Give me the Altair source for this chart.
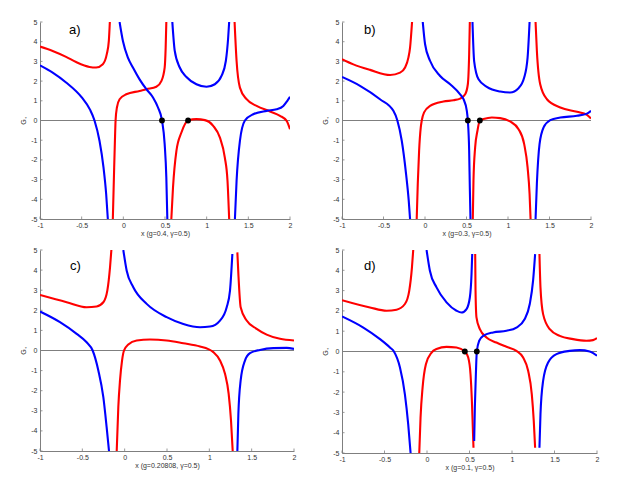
import altair as alt
import pandas as pd

# ---------------- data ----------------
X_TICKS = [-1, -0.5, 0, 0.5, 1, 1.5, 2]
Y_TICKS = [-5, -4, -3, -2, -1, 0, 1, 2, 3, 4, 5]

# panel a) g=0.4
A_R1 = [(-1, 3.75), (-0.848, 3.53), (-0.687, 3.23), (-0.567, 2.97), (-0.406, 2.72), (-0.326, 2.69), (-0.246, 2.86), (-0.198, 3.38), (-0.174, 4.04), (-0.162, 5.0)]
A_B1 = [(-1, 2.80), (-0.848, 2.43), (-0.687, 1.93), (-0.499, 1.17), (-0.40, 0.55), (-0.346, 0.0), (-0.286, -1.03), (-0.238, -2.38), (-0.206, -3.73), (-0.186, -5.0)]
A_R2 = [(-0.126, -5.0), (-0.11, -2.4), (-0.101, -1.03), (-0.093, 0.0), (-0.077, 0.66), (-0.045, 1.08), (0.035, 1.33), (0.195, 1.50), (0.276, 1.59), (0.396, 1.71), (0.456, 2.0), (0.496, 2.69), (0.508, 3.7), (0.516, 5.0)]
A_B2 = [(-0.045, 5.0), (-0.005, 4.04), (0.055, 3.19), (0.115, 2.69), (0.195, 2.09), (0.276, 1.59), (0.356, 1.17), (0.416, 0.66), (0.464, 0.0), (0.496, -1.2), (0.516, -2.9), (0.528, -5.0)]
A_B3 = [(0.588, 5.0), (0.617, 3.53), (0.677, 2.69), (0.757, 2.21), (0.877, 1.84), (0.998, 1.71), (1.098, 1.84), (1.178, 2.26), (1.230, 3.02), (1.258, 4.2), (1.270, 5.0)]
A_R3 = [(0.576, -5.0), (0.596, -3.4), (0.637, -1.54), (0.697, -0.61), (0.777, 0.0), (0.877, 0.07), (0.978, 0.02), (1.078, -0.27), (1.158, -0.86), (1.218, -1.88), (1.25, -3.06), (1.27, -5.0)]
A_R4 = [(1.335, 5.0), (1.359, 3.02), (1.399, 1.67), (1.479, 1.08), (1.599, 0.74), (1.760, 0.46), (1.880, 0.24), (1.96, -0.02), (2.0, -0.44)]
A_B4 = [(1.339, -5.0), (1.359, -3.06), (1.399, -1.03), (1.459, 0.0), (1.559, 0.32), (1.72, 0.49), (1.84, 0.57), (1.92, 0.74), (1.968, 1.0), (2.0, 1.2)]
A_DOTS = [(0.464, 0.0), (0.777, 0.0)]

# panel b) g=0.3
B_R1 = [(-1, 3.11), (-0.863, 2.85), (-0.662, 2.57), (-0.42, 2.31), (-0.30, 2.43), (-0.24, 2.69), (-0.20, 3.19), (-0.18, 3.7), (-0.156, 5.0)]
B_B1 = [(-1, 2.21), (-0.783, 1.76), (-0.542, 1.08), (-0.381, 0.49), (-0.333, 0.0), (-0.28, -1.03), (-0.228, -2.72), (-0.196, -4.07), (-0.18, -5.0)]
B_R2 = [(-0.1, -5.0), (-0.087, -3.2), (-0.071, -1.54), (-0.051, -0.35), (-0.039, 0.0), (-0.011, 0.41), (0.061, 0.74), (0.222, 0.96), (0.343, 1.03), (0.423, 1.11), (0.484, 1.33), (0.516, 1.84), (0.532, 3.36), (0.54, 5.0)]
B_B2 = [(-0.027, 5.0), (0.001, 3.87), (0.062, 3.02), (0.182, 2.26), (0.303, 1.84), (0.423, 1.33), (0.464, 1.08), (0.504, 0.49), (0.516, 0.0), (0.532, -1.54), (0.54, -3.4), (0.548, -5.0)]
B_B3 = [(0.572, 5.0), (0.592, 3.02), (0.645, 2.09), (0.745, 1.71), (0.906, 1.47), (1.026, 1.42), (1.127, 1.64), (1.195, 2.18), (1.236, 3.19), (1.26, 5.0)]
B_R3 = [(0.576, -5.0), (0.584, -3.06), (0.604, -1.37), (0.632, -0.52), (0.661, 0.0), (0.705, 0.07), (0.805, 0.15), (0.906, 0.12), (1.026, -0.05), (1.127, -0.44), (1.195, -1.2), (1.236, -2.38), (1.26, -3.73), (1.272, -5.0)]
B_R4 = [(1.332, 5.0), (1.348, 3.53), (1.388, 1.84), (1.469, 1.08), (1.63, 0.66), (1.831, 0.44), (1.951, 0.29), (2.0, 0.1)]
B_B4 = [(1.332, -5.0), (1.348, -3.2), (1.38, -1.2), (1.429, -0.35), (1.509, 0.02), (1.63, 0.15), (1.831, 0.24), (1.951, 0.35), (2.0, 0.49)]
B_DOTS = [(0.516, 0.0), (0.661, 0.0)]

# panel c) g=0.20808
C_R1 = [(-1, 2.76), (-0.685, 2.40), (-0.449, 2.15), (-0.331, 2.19), (-0.252, 2.40), (-0.205, 2.98), (-0.173, 4.14), (-0.157, 5.0)]
C_B1 = [(-1, 1.94), (-0.764, 1.41), (-0.567, 0.83), (-0.449, 0.41), (-0.378, 0.0), (-0.311, -0.99), (-0.252, -2.32), (-0.213, -3.81), (-0.185, -5.0)]
C_R2 = [(-0.094, -5.0), (-0.075, -2.81), (-0.055, -1.49), (-0.031, -0.5), (-0.008, 0.0), (0.043, 0.3), (0.142, 0.5), (0.299, 0.55), (0.496, 0.5), (0.693, 0.36), (0.89, 0.2), (0.988, 0.07), (1.047, -0.08), (1.126, -0.5), (1.185, -1.16), (1.228, -2.15), (1.256, -3.48), (1.276, -5.0)]
C_B2 = [(-0.016, 5.0), (0.024, 3.97), (0.102, 3.15), (0.26, 2.32), (0.496, 1.66), (0.693, 1.32), (0.89, 1.16), (1.008, 1.19), (1.126, 1.49), (1.205, 2.15), (1.244, 2.98), (1.272, 4.8)]
C_R3 = [(1.331, 4.88), (1.343, 3.81), (1.37, 2.15), (1.441, 1.49), (1.559, 1.08), (1.677, 0.79), (1.835, 0.58), (2.0, 0.5)]
C_B3 = [(1.331, -5.0), (1.343, -3.15), (1.37, -1.49), (1.421, -0.5), (1.48, -0.13), (1.598, 0.03), (1.756, 0.12), (1.913, 0.13), (2.0, 0.08)]
C_DOTS = []

# panel d) g=0.1
D_R1 = [(-1, 2.53), (-0.671, 2.17), (-0.475, 2.01), (-0.358, 2.06), (-0.26, 2.34), (-0.209, 2.99), (-0.177, 4.14), (-0.162, 5.0)]
D_B1 = [(-1, 1.73), (-0.749, 1.18), (-0.553, 0.61), (-0.436, 0.2), (-0.389, 0.0), (-0.318, -0.79), (-0.26, -2.11), (-0.221, -3.59), (-0.193, -5.0)]
D_R2 = [(-0.091, -5.0), (-0.076, -3.26), (-0.052, -1.78), (-0.013, -0.63), (0.054, -0.05), (0.112, 0.12), (0.23, 0.23), (0.347, 0.2), (0.445, 0.0), (0.485, -0.3), (0.512, -1.12), (0.528, -2.43), (0.539, -3.75), (0.547, -4.74)]
D_B2 = [(-0.005, 5.0), (0.034, 3.98), (0.112, 3.16), (0.23, 2.42), (0.347, 2.01), (0.406, 1.92), (0.465, 2.09), (0.504, 2.66), (0.524, 3.82), (0.532, 4.8)]
D_R3 = [(0.567, 4.8), (0.571, 2.99), (0.582, 1.68), (0.622, 1.1), (0.7, 0.69), (0.817, 0.44), (0.935, 0.23), (1.052, 0.03), (1.131, -0.3), (1.19, -0.95), (1.233, -2.11), (1.256, -3.42), (1.272, -4.74)]
D_B3 = [(0.555, -4.41), (0.563, -2.76), (0.575, -1.12), (0.586, 0.0), (0.614, 0.53), (0.661, 0.77), (0.778, 0.94), (0.935, 1.02), (1.052, 1.18), (1.15, 1.6), (1.209, 2.34), (1.248, 3.49), (1.272, 4.8)]
D_R4 = [(1.323, 4.8), (1.335, 3.16), (1.366, 1.84), (1.444, 1.1), (1.562, 0.77), (1.718, 0.61), (1.875, 0.53), (1.953, 0.56), (2.0, 0.66)]
D_B4 = [(1.323, -4.74), (1.335, -3.09), (1.366, -1.45), (1.425, -0.54), (1.523, -0.13), (1.679, 0.03), (1.797, 0.07), (1.914, 0.0), (2.0, -0.21)]
D_DOTS = [(0.445, 0.0), (0.586, 0.0)]

RED = "#ff0000"
BLUE = "#0000ff"
GREY = "#7f7f7f"
FONT = "Liberation Sans"


def branch_frame(pts, color, name):
    return pd.DataFrame({"x": [p[0] for p in pts], "y": [p[1] for p in pts],
                         "branch": name, "c": color})


def panel(reds, blues, dots, label, xtitle, w, h, lx, ly):
    frames = [branch_frame(p, RED, f"r{i}") for i, p in enumerate(reds)]
    frames += [branch_frame(p, BLUE, f"b{i}") for i, p in enumerate(blues)]
    df = pd.concat(frames, ignore_index=True)

    xs = alt.Scale(domain=[-1, 2], nice=False, zero=False)
    ys = alt.Scale(domain=[-5, 5], nice=False, zero=False)
    xax = alt.Axis(values=X_TICKS, labelExpr="'' + datum.value", title=xtitle,
                   ticks=False, labelPadding=2, titlePadding=1, labelFlush=False)
    yax = alt.Axis(values=Y_TICKS, labelExpr="'' + datum.value", title="G₊",
                   ticks=False, labelPadding=3, titlePadding=4)

    zero = alt.Chart(pd.DataFrame({"y": [0]})).mark_rule(
        color=GREY, strokeWidth=1).encode(y=alt.Y("y:Q", scale=ys, axis=yax))

    lines = alt.Chart(df).mark_line(interpolate="monotone", strokeWidth=2.1, clip=True).encode(
        x=alt.X("x:Q", scale=xs, axis=xax),
        y=alt.Y("y:Q", scale=ys, axis=yax),
        detail="branch:N",
        color=alt.Color("c:N", scale=None),
    )

    xt = alt.Chart(pd.DataFrame({"t": X_TICKS})).mark_rule(color=GREY, strokeWidth=0.8).encode(
        x=alt.X("t:Q", scale=xs, axis=xax), y=alt.value(h), y2=alt.value(h - 2.5))
    yt = alt.Chart(pd.DataFrame({"t": Y_TICKS})).mark_rule(color=GREY, strokeWidth=0.8).encode(
        y=alt.Y("t:Q", scale=ys, axis=yax), x=alt.value(0), x2=alt.value(2.5))

    txt = alt.Chart(pd.DataFrame({"t": [label]})).mark_text(
        align="left", baseline="alphabetic", fontSize=13, font=FONT, color="black").encode(
        text="t:N", x=alt.value(lx), y=alt.value(ly))

    layers = [zero, lines, xt, yt, txt]
    if dots:
        ddf = pd.DataFrame({"x": [d[0] for d in dots], "y": [d[1] for d in dots]})
        dm = alt.Chart(ddf).mark_circle(size=34, color="black", opacity=1).encode(
            x=alt.X("x:Q", scale=xs, axis=xax), y=alt.Y("y:Q", scale=ys, axis=yax))
        layers.append(dm)
    return alt.layer(*layers).properties(width=w, height=h)


pa = panel([A_R1, A_R2, A_R3, A_R4], [A_B1, A_B2, A_B3, A_B4], A_DOTS,
           "a)", "x (g=0.4, γ=0.5)", 250, 197, 29, 12)
pb = panel([B_R1, B_R2, B_R3, B_R4], [B_B1, B_B2, B_B3, B_B4], B_DOTS,
           "b)", "x (g=0.3, γ=0.5)", 249, 197, 22, 12)
pc = panel([C_R1, C_R2, C_R3], [C_B1, C_B2, C_B3], C_DOTS,
           "c)", "x (g=0.20808, γ=0.5)", 254, 201, 30, 20)
pd_ = panel([D_R1, D_R2, D_R3, D_R4], [D_B1, D_B2, D_B3, D_B4], D_DOTS,
            "d)", "x (g=0.1, γ=0.5)", 255, 203, 22, 20)

chart = alt.concat(pa, pb, pc, pd_, columns=2,
                   spacing={"row": 31, "column": 48}, bounds="flush").properties(
    padding={"left": 11, "top": 10, "right": 5, "bottom": 5}
).configure_view(stroke=None).configure_axis(
    grid=False, domainColor=GREY, domainWidth=1,
    labelFontSize=7, titleFontSize=7, labelColor="#333333", titleColor="#333333",
    titleFontWeight="normal", labelFont=FONT, titleFont=FONT,
)

chart.save("out.html", embed_options={"renderer": "svg", "actions": False})
